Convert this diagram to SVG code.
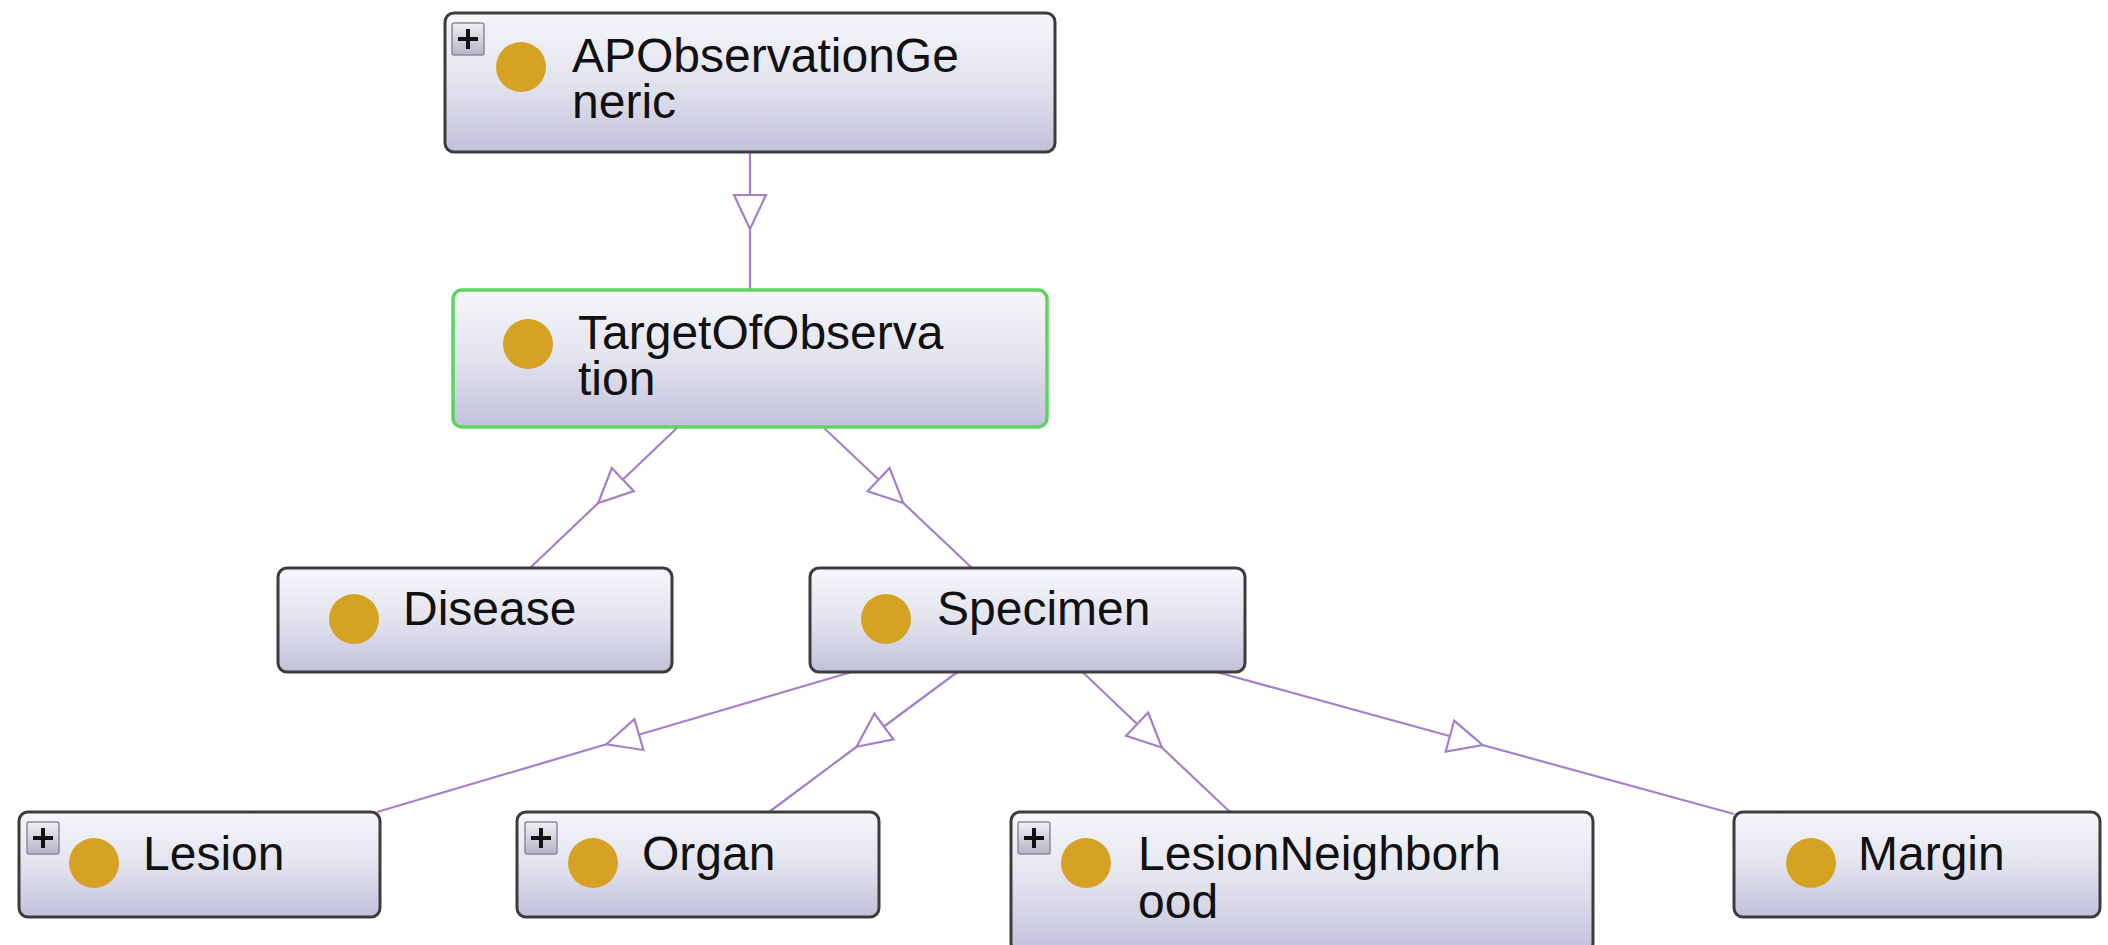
<svg xmlns="http://www.w3.org/2000/svg" width="2108" height="945" viewBox="0 0 2108 945">
  <defs>
    <linearGradient id="nodeFill" x1="0" y1="0" x2="0" y2="1">
      <stop offset="0" stop-color="#f6f6fb"/>
      <stop offset="0.5" stop-color="#e3e3ef"/>
      <stop offset="1" stop-color="#c2c1db"/>
    </linearGradient>
    <linearGradient id="plusFill" x1="0" y1="0" x2="0" y2="1">
      <stop offset="0" stop-color="#f0f0f5"/>
      <stop offset="1" stop-color="#b4b4c4"/>
    </linearGradient>
    <marker id="hollowArrow" markerUnits="userSpaceOnUse" markerWidth="80" markerHeight="80" refX="0" refY="0" orient="auto" viewBox="-40 -40 80 80" overflow="visible">
      <path d="M -26 -16 L 8 0 L -26 16 Z" fill="#ffffff" stroke="#a57fcb" stroke-width="2.2" stroke-linejoin="miter"/>
    </marker>
    <g id="plusIcon">
      <rect x="0" y="0" width="32" height="32" rx="2" fill="url(#plusFill)" stroke="#8a8a9a" stroke-width="1.5"/>
      <path d="M 6 16 H 26 M 16 6 V 26" stroke="#111" stroke-width="4"/>
    </g>
  </defs>
  <style>
    .box { fill: url(#nodeFill); stroke: #3c3c3c; stroke-width: 3; }
    .box.sel { stroke: #5fd35f; stroke-width: 3.5; }
    .dot { fill: #d5a224; }
    .lbl { font-family: "Liberation Sans", Arial, sans-serif; font-size: 48px; fill: #111; }
    .edge { fill: none; stroke: #a57fcb; stroke-width: 2.2; marker-mid: url(#hollowArrow); }
  </style>

  <rect width="2108" height="945" fill="#ffffff"/>

  <!-- subclass links: centre-to-centre lines clipped at the boxes, hollow head at the midpoint -->
  <g id="connectors">
    <path class="edge" d="M 750 152 L 750 221 L 750 290"/>
    <path class="edge" d="M 678 427 L 604 497.5 L 530 568"/>
    <path class="edge" d="M 823 427 L 897.5 497.5 L 972 568"/>
    <path class="edge" d="M 851.5 672 L 614 742 L 377 812"/>
    <path class="edge" d="M 957.5 672 L 863 742 L 769 812"/>
    <path class="edge" d="M 1082.5 672 L 1156 742 L 1230 812"/>
    <path class="edge" d="M 1216.5 672 L 1475 743 L 1734 814"/>
  </g>

  <g id="APObservationGeneric">
    <rect class="box" x="445" y="13" width="610" height="139" rx="9"/>
    <use href="#plusIcon" x="452" y="23"/>
    <circle class="dot" cx="521" cy="67" r="25"/>
    <text class="lbl" x="572" y="72">APObservationGe</text>
    <text class="lbl" x="572" y="118">neric</text>
  </g>

  <g id="TargetOfObservation">
    <rect class="box sel" x="453" y="290" width="594" height="137" rx="9"/>
    <circle class="dot" cx="528" cy="344" r="25"/>
    <text class="lbl" x="578" y="349">TargetOfObserva</text>
    <text class="lbl" x="578" y="395">tion</text>
  </g>

  <g id="Disease">
    <rect class="box" x="278" y="568" width="394" height="104" rx="9"/>
    <circle class="dot" cx="354" cy="619" r="25"/>
    <text class="lbl" x="403" y="625">Disease</text>
  </g>

  <g id="Specimen">
    <rect class="box" x="810" y="568" width="435" height="104" rx="9"/>
    <circle class="dot" cx="886" cy="619" r="25"/>
    <text class="lbl" x="937" y="625">Specimen</text>
  </g>

  <g id="Lesion">
    <rect class="box" x="19" y="812" width="361" height="105" rx="9"/>
    <use href="#plusIcon" x="27" y="822"/>
    <circle class="dot" cx="94" cy="863" r="25"/>
    <text class="lbl" x="143" y="870">Lesion</text>
  </g>

  <g id="Organ">
    <rect class="box" x="517" y="812" width="362" height="105" rx="9"/>
    <use href="#plusIcon" x="525" y="822"/>
    <circle class="dot" cx="593" cy="863" r="25"/>
    <text class="lbl" x="642" y="870">Organ</text>
  </g>

  <g id="LesionNeighborhood">
    <rect class="box" x="1011" y="812" width="582" height="140" rx="9"/>
    <use href="#plusIcon" x="1018" y="822"/>
    <circle class="dot" cx="1086" cy="863" r="25"/>
    <text class="lbl" x="1138" y="870">LesionNeighborh</text>
    <text class="lbl" x="1138" y="918">ood</text>
  </g>

  <g id="Margin">
    <rect class="box" x="1734" y="812" width="366" height="105" rx="9"/>
    <circle class="dot" cx="1811" cy="863" r="25"/>
    <text class="lbl" x="1858" y="870">Margin</text>
  </g>
</svg>
